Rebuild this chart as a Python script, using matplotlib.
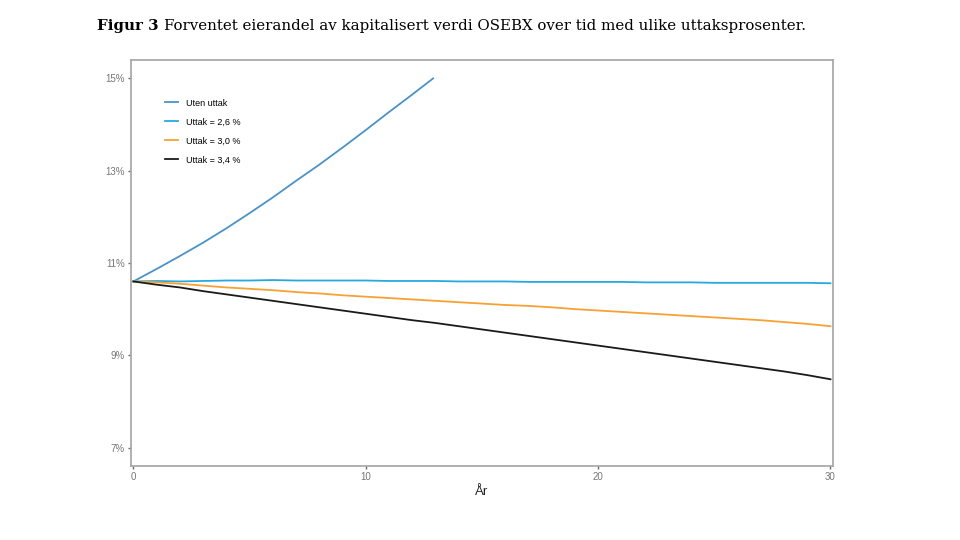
import matplotlib
matplotlib.use("Agg")
import matplotlib.pyplot as plt
import numpy as np

years = [0, 1, 2, 3, 4, 5, 6, 7, 8, 9, 10, 11, 12, 12.9]
uten_uttak = [10.6, 10.87, 11.15, 11.44, 11.75, 12.08, 12.42, 12.78, 13.13, 13.5, 13.88, 14.27, 14.65, 15.0]

years_full = list(range(0, 31))
uttak_26 = [10.6, 10.61, 10.60, 10.61, 10.62, 10.62, 10.63, 10.62, 10.62, 10.62, 10.62,
            10.61, 10.61, 10.61, 10.60, 10.60, 10.60, 10.59, 10.59, 10.59, 10.59,
            10.59, 10.58, 10.58, 10.58, 10.57, 10.57, 10.57, 10.57, 10.57, 10.56]
uttak_30 = [10.6, 10.58, 10.55, 10.51, 10.47, 10.44, 10.41, 10.37, 10.34, 10.30, 10.27,
            10.24, 10.21, 10.18, 10.15, 10.12, 10.09, 10.07, 10.04, 10.00, 9.97,
            9.94, 9.91, 9.88, 9.85, 9.82, 9.79, 9.76, 9.72, 9.68, 9.63]
uttak_34 = [10.6, 10.53, 10.47, 10.39, 10.32, 10.25, 10.18, 10.11, 10.04, 9.97, 9.90,
            9.83, 9.76, 9.70, 9.63, 9.56, 9.49, 9.42, 9.35, 9.28, 9.21,
            9.14, 9.07, 9.00, 8.93, 8.86, 8.79, 8.72, 8.65, 8.57, 8.48]

labels = ["Uten uttak", "Uttak = 2,6 %", "Uttak = 3,0 %", "Uttak = 3,4 %"]
colors = ["#4a93c6", "#27a9df", "#f7a135", "#1a1a1a"]
title_bold = "Figur 3"
title_rest = "Forventet eierandel av kapitalisert verdi OSEBX over tid med ulike uttaksprosenter."

plt.rcParams["font.family"] = ["Liberation Sans", "DejaVu Sans"]

fig = plt.figure(figsize=(9.6, 5.4), dpi=100)
ax = fig.add_axes([0.1365, 0.137, 0.731, 0.752])

ax.plot(years, uten_uttak, color=colors[0], lw=1.3, label=labels[0])
ax.plot(years_full, uttak_26, color=colors[1], lw=1.3, label=labels[1])
ax.plot(years_full, uttak_30, color=colors[2], lw=1.3, label=labels[2])
ax.plot(years_full, uttak_34, color=colors[3], lw=1.3, label=labels[3])

ax.set_xlim(-0.1, 30.1)
ax.set_ylim(6.6, 15.4)
ax.set_xticks([0, 10, 20, 30])
ax.set_yticks([7, 9, 11, 13, 15])
ax.set_yticklabels(["7%", "9%", "11%", "13%", "15%"])
for s in ax.spines.values():
    s.set_color("#aaaaaa")
    s.set_linewidth(1.3)
ax.tick_params(colors="#666666", labelsize=7, length=2.5, width=1, labelcolor="#777777", pad=2)
ax.set_xlabel("År", fontsize=9.5, color="#222222", labelpad=3)

leg = ax.legend(loc="upper left", bbox_to_anchor=(0.037, 0.925), frameon=False,
                fontsize=6.5, handlelength=1.4, labelspacing=1.1, handletextpad=0.9)

# Title: bold part followed by regular part, fit to reference width
fs = 13
t1 = fig.text(0.101, 0.952, title_bold, fontsize=fs, fontweight="bold",
              family="DejaVu Serif", va="center", ha="left")
t2 = fig.text(0.2, 0.952, title_rest, fontsize=fs, family="DejaVu Serif", va="center", ha="left")
fig.canvas.draw()
r = fig.canvas.get_renderer()
w1 = t1.get_window_extent(r).width
w2 = t2.get_window_extent(r).width
target = 706.0
scale = target / (w1 + w2 + 6)
fs2 = fs * scale
t1.set_fontsize(fs2)
t2.set_fontsize(fs2)
fig.canvas.draw()
w1 = t1.get_window_extent(r).width
t2.set_x((97 + w1 + 5) / 960)

fig.savefig("out.png", dpi=100)
